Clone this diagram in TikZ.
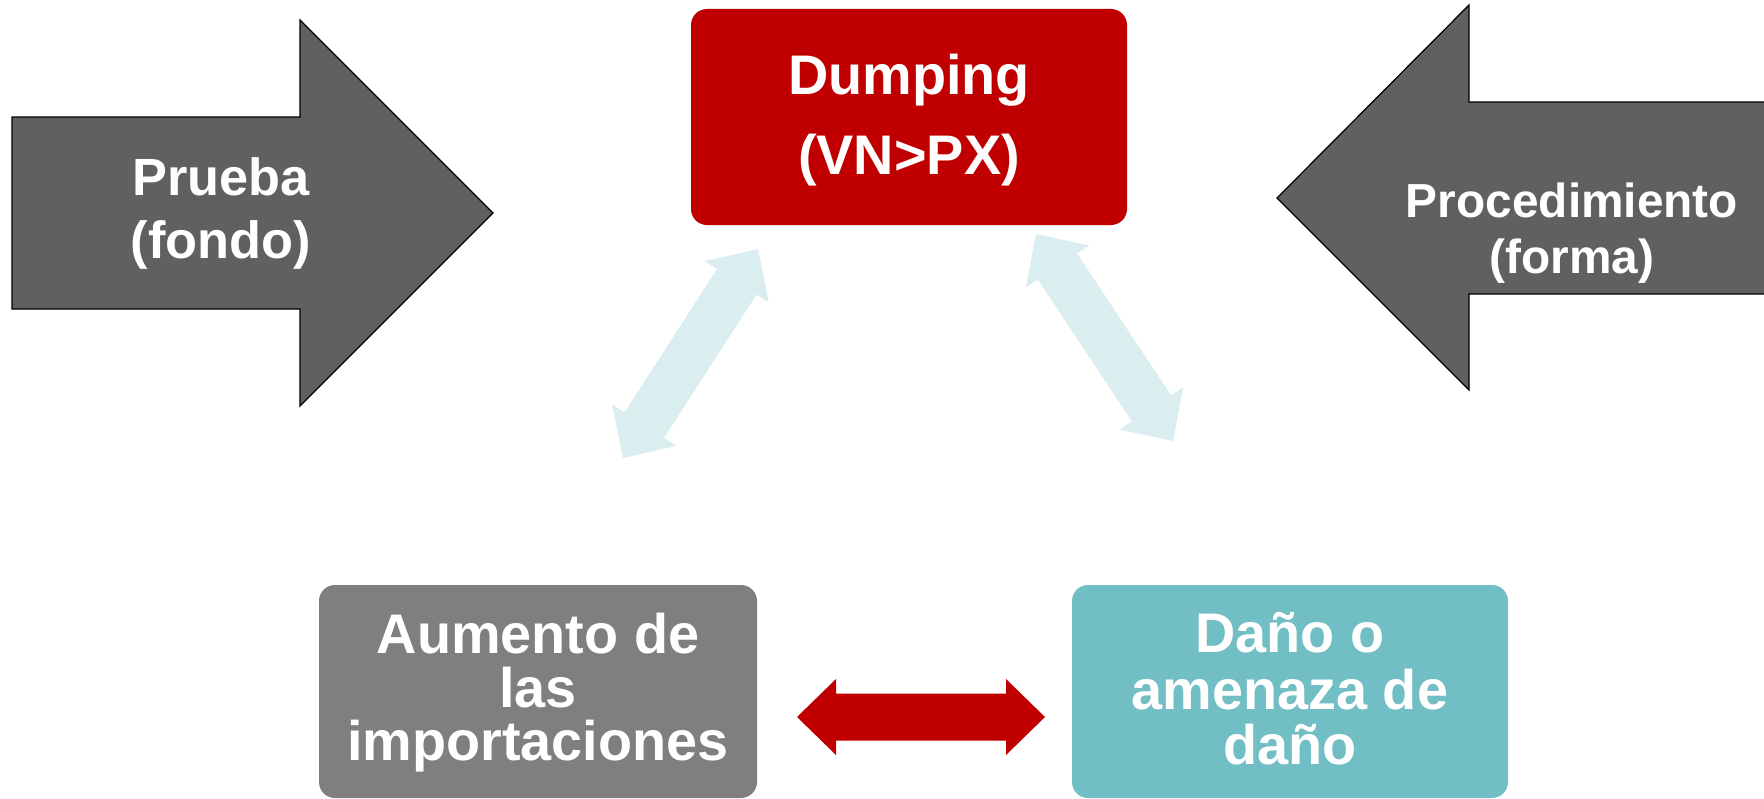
\documentclass[tikz,border=0pt]{standalone}
\usepackage{fontspec}
\setmainfont{Liberation Sans}
\usetikzlibrary{calc}
\definecolor{dumpred}{HTML}{C00000}
\definecolor{boxgray}{HTML}{7F7F7F}
\definecolor{boxteal}{HTML}{72BEC5}
\definecolor{palecyan}{HTML}{DAEDEF}
\definecolor{darkarrow}{HTML}{606060}
\newcommand\dblarrowshape[3]{%
  \fill[#3] (#1)
    -- ($(#1)!39bp!(#2)!38bp!90:(#2)$)
    -- ($(#1)!39bp!(#2)!23.5bp!90:(#2)$)
    -- ($(#2)!39bp!(#1)!23.5bp!-90:(#1)$)
    -- ($(#2)!39bp!(#1)!38bp!-90:(#1)$)
    -- (#2)
    -- ($(#2)!39bp!(#1)!38bp!90:(#1)$)
    -- ($(#2)!39bp!(#1)!23.5bp!90:(#1)$)
    -- ($(#1)!39bp!(#2)!23.5bp!-90:(#2)$)
    -- ($(#1)!39bp!(#2)!38bp!-90:(#2)$)
    -- cycle;}
\tikzset{
  box/.style={rounded corners=16bp, inner sep=0pt, outer sep=0pt},
  lbl/.style={text=white, font=\bfseries\fontsize{56}{57}\selectfont, anchor=base, inner sep=0pt},
  lblsmall/.style={lbl, font=\bfseries\fontsize{52.5}{56}\selectfont},
  lblproc/.style={lbl, font=\bfseries\fontsize{48}{56}\selectfont},
  bigarrow/.style={fill=darkarrow, draw=black, line width=1.2bp, line join=miter},
}
\begin{document}
\begin{tikzpicture}[x=1bp, y=-1bp]
\clip (0,0) rectangle (1764,799);
\fill[white] (0,0) rectangle (1764,799);

% big dark arrows
\draw[bigarrow] (12,117) -- (300,117) -- (300,20) -- (493,213) -- (300,406) -- (300,309) -- (12,309) -- cycle;
\draw[bigarrow] (1790,102) -- (1469,102) -- (1469,5) -- (1277,198) -- (1469,390) -- (1469,294) -- (1790,294) -- cycle;
\node[lblsmall] (prueba1) at (221,195) {Prueba};
\node[lblsmall] (prueba2) at (221,258) {(fondo)};
\node[lblproc] (proc1) at (1572,217) {Procedimiento};
\node[lblproc] (proc2) at (1572,273) {(forma)};

% boxes
\node[box, fill=dumpred, minimum width=436bp, minimum height=216bp] (dump) at (909,117) {};
\node[box, fill=boxgray, minimum width=438bp, minimum height=213bp] (aum) at (538,691.5) {};
\node[box, fill=boxteal, minimum width=436bp, minimum height=213bp] (dano) at (1290,691.5) {};

\node[lbl] (dump1) at (909,94) {Dumping};
\node[lbl] (dump2) at (909,174) {(VN>PX)};
\node[lbl] (aum1) at (538,653) {Aumento de};
\node[lbl] (aum2) at (538,707) {las};
\node[lbl] (aum3) at (538,760) {importaciones};
\node[lbl] (dano1) at (1290,652) {Daño o};
\node[lbl] (dano2) at (1290,709) {amenaza de};
\node[lbl] (dano3) at (1290,764) {daño};

% connector end points
\coordinate (la) at (623,458);
\coordinate (lb) at (758,249);
\coordinate (ra) at (1036,234);
\coordinate (rb) at (1173,441);
\coordinate (ha) at (797,717);
\coordinate (hb) at (1045,717);

\dblarrowshape{la}{lb}{palecyan}
\dblarrowshape{ra}{rb}{palecyan}
\dblarrowshape{ha}{hb}{dumpred}
\end{tikzpicture}
\end{document}
